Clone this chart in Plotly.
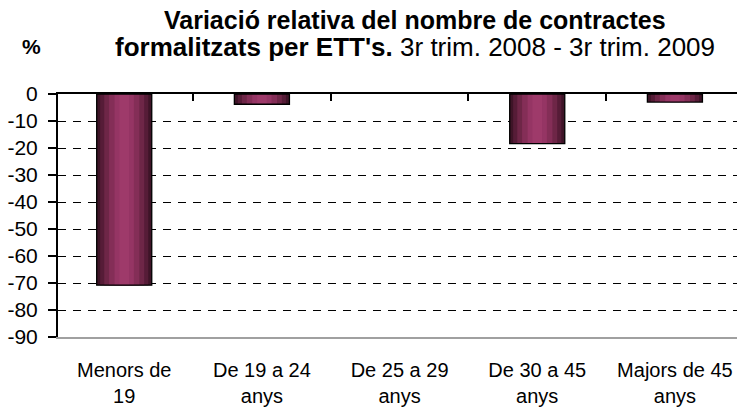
import plotly.graph_objects as go

categories = ["Menors de<br>19", "De 19 a 24<br>anys", "De 25 a 29<br>anys", "De 30 a 45<br>anys", "Majors de 45<br>anys"]
values = [-70.8, -3.8, 0.0, -18.4, -3.0]
y_ticks = [0, -10, -20, -30, -40, -50, -60, -70, -80, -90]

FONT = "Liberation Sans, Arial, sans-serif"
xs = list(range(len(categories)))
XR = [-0.481, 4.451]

fig = go.Figure()
# gradient-like bar shading (layers, widest = darkest)
layers = [(0.40, "#3E1427"),
          (0.35, "#561C37"),
          (0.29, "#6E2647"),
          (0.22, "#842E57"),
          (0.14, "#953564"),
          (0.07, "#9E3A6A")]
for w, c in layers:
    fig.add_trace(go.Bar(x=xs, y=values, width=w, marker=dict(color=c, line=dict(width=0)),
                         showlegend=False, hoverinfo="skip"))
# outline on top
fig.add_trace(go.Bar(x=xs, y=values, width=0.40,
                     marker=dict(color="rgba(0,0,0,0)",
                                 line=dict(color="black", width=[1.3 if v != 0 else 0 for v in values])),
                     showlegend=False, hoverinfo="skip"))
# dummy trace for top axis
fig.add_trace(go.Scatter(x=[0], y=[0], xaxis="x2", mode="markers",
                         marker=dict(opacity=0), showlegend=False, hoverinfo="skip"))

fig.update_layout(
    width=737, height=407,
    margin=dict(l=58, r=0, t=94, b=70),
    plot_bgcolor="white", paper_bgcolor="white",
    barmode="overlay",
    font=dict(family=FONT, color="black"),
    xaxis=dict(range=XR, tickvals=xs, ticktext=categories,
               showline=True, linecolor="#A0A0A0", linewidth=2, ticks="",
               showgrid=False, zeroline=False, tickfont=dict(size=20, family=FONT),
               ticklabelstandoff=14),
    xaxis2=dict(range=XR, overlaying="x", side="top", anchor="y",
                tickvals=[0.5, 1.5, 2.5, 3.5], showticklabels=False,
                ticks="inside", ticklen=7, tickcolor="black", tickwidth=1.5,
                showline=True, linecolor="black", linewidth=2, showgrid=False, zeroline=False),
    yaxis=dict(range=[-90, 0], tickvals=y_ticks, ticktext=[str(v) for v in y_ticks],
               showline=True, linecolor="black", linewidth=2,
               ticks="outside", ticklen=8, tickcolor="black", tickwidth=1.5,
               showgrid=True, gridcolor="black", griddash="8px,7px", gridwidth=1,
               zeroline=False, tickfont=dict(size=21, family=FONT),
               ticklabelstandoff=6),
)
fig.add_annotation(xref="paper", yref="paper", x=0, xshift=415 - 58, y=1.0, yshift=74,
                   xanchor="center", yanchor="middle", showarrow=False,
                   text="<b>Variació relativa del nombre de contractes</b>",
                   font=dict(size=25, family=FONT))
fig.add_annotation(xref="paper", yref="paper", x=0, xshift=415 - 58, y=1.0, yshift=47,
                   xanchor="center", yanchor="middle", showarrow=False,
                   text="<b>formalitzats per ETT's.</b> 3r trim. 2008 - 3r trim. 2009",
                   font=dict(size=26, family=FONT))
fig.add_annotation(xref="paper", yref="paper", x=0, xshift=31 - 58, y=1.0, yshift=48,
                   xanchor="center", yanchor="middle", showarrow=False,
                   text="<b>%</b>", font=dict(size=21, family=FONT))
fig.write_html("out.html", config={"displayModeBar": False},
               post_script="document.body.style.margin='0';")
